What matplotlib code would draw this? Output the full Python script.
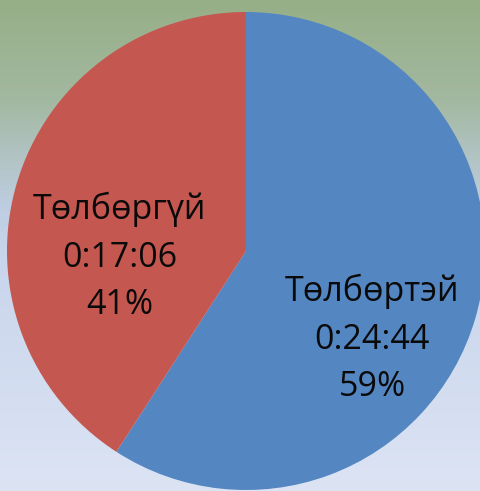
import numpy as np
import matplotlib
matplotlib.use("Agg")
import matplotlib.pyplot as plt
from matplotlib.colors import LinearSegmentedColormap

# Data
labels = ["Төлбөртэй", "Төлбөргүй"]
durations = ["0:24:44", "0:17:06"]
seconds = [24 * 60 + 44, 17 * 60 + 6]
colors = ["#5487C1", "#C4574F"]

W, H = 481, 491
fig = plt.figure(figsize=(W / 100, H / 100), dpi=100)

# Background gradient
bg = fig.add_axes([0, 0, 1, 1], zorder=0)
bg.axis("off")
stops = [(0.0, (150, 175, 135)), (0.2, (163, 184, 160)), (0.42, (190, 205, 225)),
         (0.53, (201, 213, 236)), (1.0, (220, 228, 244))]
cmap = LinearSegmentedColormap.from_list(
    "bg", [(p, tuple(c / 255 for c in col)) for p, col in stops])
grad = np.linspace(0, 1, 256).reshape(-1, 1)
bg.imshow(grad, aspect="auto", cmap=cmap, extent=[0, 1, 0, 1], origin="upper")
bg.set_xlim(0, 1)
bg.set_ylim(0, 1)

# Pie
cx, cy, r = 246, 251, 239
ax = fig.add_axes([(cx - r) / W, (H - cy - r) / H, 2 * r / W, 2 * r / H], zorder=1)
ax.pie(seconds, colors=colors, startangle=90, counterclock=False, radius=1,
       wedgeprops=dict(linewidth=0))
ax.set_xlim(-1, 1)
ax.set_ylim(-1, 1)
ax.set_aspect("equal")
ax.axis("off")

total = sum(seconds)
pos = [((372 - cx) / r, (cy - 339) / r), ((120 - cx) / r, (cy - 257) / r)]
for lab, dur, s, (x, y) in zip(labels, durations, seconds, pos):
    pct = round(100 * s / total)
    ax.text(x, y, f"{lab}\n{dur}\n{pct}%", ha="center", va="center",
            fontsize=24.5, family=["Open Sans", "DejaVu Sans"], color="#0a0a0a",
            linespacing=1.52)

fig.savefig("out.png", dpi=100)
